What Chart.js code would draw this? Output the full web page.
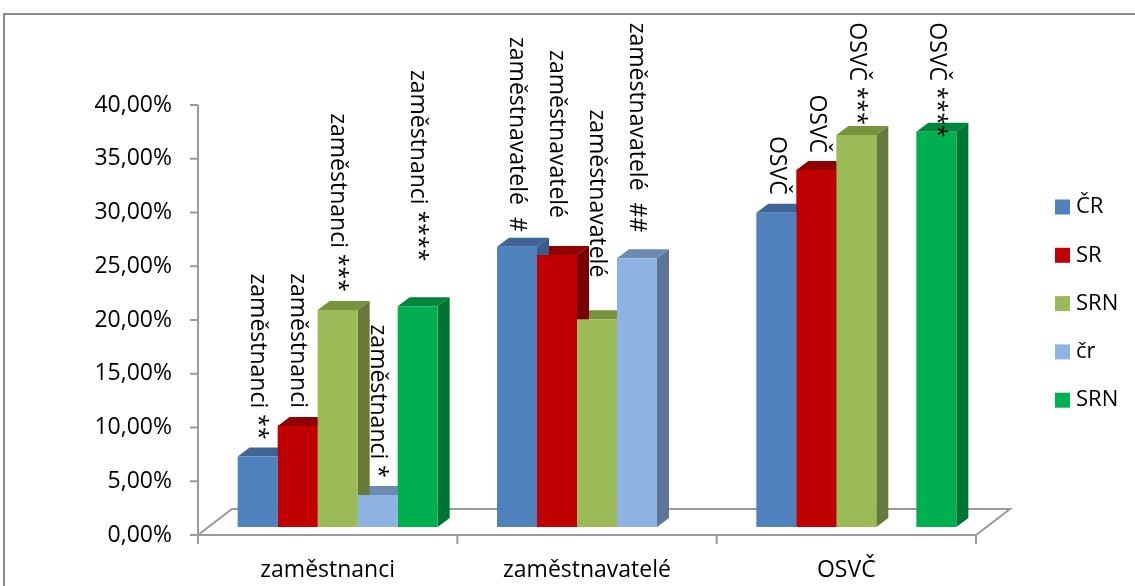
<!DOCTYPE html>
<html lang="cs">
<head>
<meta charset="utf-8">
<title>Zaměstnanci, zaměstnavatelé, OSVČ</title>
<style>
  html, body { margin: 0; padding: 0; background: #ffffff; }
  #wrap { width: 1135px; height: 586px; position: relative; }
</style>
<script src="https://cdn.jsdelivr.net/npm/chart.js@4.4.1/dist/chart.umd.min.js"></script>
</head>
<body>
<div id="wrap"><canvas id="chart" width="1135" height="586"></canvas></div>
<script>
// ---- data ----
const categories = ['zaměstnanci', 'zaměstnavatelé', 'OSVČ'];
const seriesNames = ['ČR', 'SR', 'SRN', 'čr', 'SRN'];

const valuesCR   = [0.0655, 0.2607, 0.2924];
const valuesSR   = [0.0940, 0.2530, 0.3320];
const valuesSRN  = [0.2019, 0.1932, 0.3647];
const valuesCr   = [0.0298, 0.2500, null];
const valuesSRN2 = [0.2053, null,   0.3677];

const labelsCR   = ['zaměstnanci **', 'zaměstnavatelé  #', 'OSVČ'];
const labelsSR   = ['zaměstnanci', 'zaměstnavatelé', 'OSVČ'];
const labelsSRN  = ['zaměstnanci ***', 'zaměstnavatelé', 'OSVČ ***'];
const labelsCr   = ['zaměstnanci *', 'zaměstnavatelé  ##', ''];
const labelsSRN2 = ['zaměstnanci ****', '', 'OSVČ ****'];

const yTickValues = [0, 0.05, 0.10, 0.15, 0.20, 0.25, 0.30, 0.35, 0.40];

// ---- styling ----
const FONT = '"Open Sans", "DejaVu Sans", sans-serif';
const faceColors = [
  { front: '#4f81bd', top: '#3e6595', side: '#385d8a' },
  { front: '#c00000', top: '#900000', side: '#790000' },
  { front: '#9bbb59', top: '#77933c', side: '#66793a' },
  { front: '#8db3e2', top: '#6d8bb0', side: '#5b7593' },
  { front: '#00b050', top: '#00873d', side: '#007432' }
];
// distance (px) between a bar top and the end of its rotated label, per dataset / category
const labelGap = [
  [17, 15, 18],
  [18, 37, 17],
  [18, 42, 10],
  [17, 26, 0],
  [45, 0, -6]
];
const BAR_DEPTH = { dx: 12, dy: 9 };     // extrusion of each column
const WALL_SHIFT = { dx: -10, dy: 8 };   // front edge of the floor relative to the columns
const FLOOR_DEPTH = { dx: 34, dy: -26 }; // floor extent going backwards

const seriesValues = [valuesCR, valuesSR, valuesSRN, valuesCr, valuesSRN2];
const seriesLabels = [labelsCR, labelsSR, labelsSRN, labelsCr, labelsSRN2];

Chart.defaults.font.family = FONT;
Chart.defaults.color = '#000000';

function pct(v) {
  return (v * 100).toFixed(2).replace('.', ',') + '%';
}

const frame = {
  id: 'frame',
  beforeDraw(chart) {
    const ctx = chart.ctx;
    ctx.save();
    ctx.fillStyle = '#ffffff';
    ctx.fillRect(0, 0, chart.width, chart.height);
    ctx.strokeStyle = '#8c8c8c';
    ctx.lineWidth = 2;
    ctx.strokeRect(4, 14, chart.width + 20, chart.height + 20);
    ctx.restore();
  }
};

const columns3d = {
  id: 'columns3d',
  beforeDatasetsDraw(chart) {
    const { ctx, chartArea, scales: { x, y } } = chart;
    const zeroY = y.getPixelForValue(0) + WALL_SHIFT.dy;
    const x0 = chartArea.left + WALL_SHIFT.dx;
    const x1 = chartArea.right + WALL_SHIFT.dx;

    ctx.save();
    ctx.strokeStyle = '#9a9a9a';
    ctx.lineWidth = 2;
    ctx.lineJoin = 'miter';
    // floor
    ctx.beginPath();
    ctx.moveTo(x0, zeroY);
    ctx.lineTo(x0 + FLOOR_DEPTH.dx, zeroY + FLOOR_DEPTH.dy);
    ctx.lineTo(x1 + FLOOR_DEPTH.dx, zeroY + FLOOR_DEPTH.dy);
    ctx.lineTo(x1, zeroY);
    ctx.closePath();
    ctx.stroke();

    // value axis with tick marks
    ctx.beginPath();
    ctx.moveTo(x0, zeroY);
    ctx.lineTo(x0, y.getPixelForValue(y.max) + WALL_SHIFT.dy);
    y.ticks.forEach(t => {
      const py = y.getPixelForValue(t.value) + WALL_SHIFT.dy;
      ctx.moveTo(x0 - 8, py);
      ctx.lineTo(x0, py);
    });
    // category axis tick marks at category boundaries
    const n = categories.length;
    const catW = (chartArea.right - chartArea.left) / n;
    for (let i = 0; i <= n; i++) {
      const px = x.getPixelForValue(Math.min(i, n - 1)) + (i < n ? -catW / 2 : catW / 2) + WALL_SHIFT.dx;
      ctx.moveTo(px, zeroY);
      ctx.lineTo(px, zeroY + 9);
    }
    ctx.stroke();

    // column tops, then column sides; the library paints the fronts afterwards
    const metas = chart.getSortedVisibleDatasetMetas();
    const pass = (kind) => {
      metas.forEach(meta => {
        const c = faceColors[meta.index];
        meta.data.forEach((el, j) => {
          if (seriesValues[meta.index][j] == null) return;
          const { x: cx, y: top, base, width } = el.getProps(['x', 'y', 'base', 'width'], true);
          const l = cx - width / 2, r = cx + width / 2;
          ctx.beginPath();
          if (kind === 'top') {
            ctx.fillStyle = c.top;
            ctx.moveTo(l, top);
            ctx.lineTo(r, top);
            ctx.lineTo(r + BAR_DEPTH.dx, top - BAR_DEPTH.dy);
            ctx.lineTo(l + BAR_DEPTH.dx, top - BAR_DEPTH.dy);
          } else {
            ctx.fillStyle = c.side;
            ctx.moveTo(r, top);
            ctx.lineTo(r + BAR_DEPTH.dx, top - BAR_DEPTH.dy);
            ctx.lineTo(r + BAR_DEPTH.dx, base - BAR_DEPTH.dy);
            ctx.lineTo(r, base);
          }
          ctx.closePath();
          ctx.fill();
        });
      });
    };
    pass('top');
    pass('side');
    ctx.restore();
  },
  afterDatasetsDraw(chart) {
    const ctx = chart.ctx;
    ctx.save();
    ctx.font = '23px ' + FONT;
    ctx.fillStyle = '#000000';
    ctx.textAlign = 'right';
    ctx.textBaseline = 'middle';
    chart.getSortedVisibleDatasetMetas().forEach(meta => {
      meta.data.forEach((el, j) => {
        const text = seriesLabels[meta.index][j];
        if (!text || seriesValues[meta.index][j] == null) return;
        const { x: cx, y: top } = el.getProps(['x', 'y'], true);
        ctx.save();
        ctx.translate(cx, top - labelGap[meta.index][j]);
        ctx.rotate(Math.PI / 2);
        ctx.fillText(text, 0, 0);
        ctx.restore();
      });
    });
    ctx.restore();
  },
  afterDraw(chart) {
    // legend
    const ctx = chart.ctx;
    ctx.save();
    ctx.font = '22px ' + FONT;
    ctx.textAlign = 'left';
    ctx.textBaseline = 'middle';
    chart.data.datasets.forEach((ds, i) => {
      const cy = 207 + i * 48.3;
      ctx.fillStyle = ds.backgroundColor;
      ctx.fillRect(1055, cy - 7.5, 15, 15);
      ctx.fillStyle = '#000000';
      ctx.fillText(ds.label, 1076, cy);
    });
    ctx.restore();
  }
};

const chart = new Chart(document.getElementById('chart'), {
  type: 'bar',
  data: {
    labels: categories,
    datasets: seriesValues.map((vals, i) => ({
      label: seriesNames[i],
      data: vals,
      backgroundColor: faceColors[i].front,
      borderWidth: 0
    }))
  },
  options: {
    responsive: false,
    animation: false,
    events: [],
    layout: { padding: { top: 97, right: 149, bottom: 0, left: 0 } },
    datasets: { bar: { categoryPercentage: 0.7713, barPercentage: 1 } },
    plugins: {
      legend: { display: false },
      tooltip: { enabled: false }
    },
    scales: {
      x: {
        grid: { display: false, drawTicks: false },
        border: { display: false },
        ticks: {
          font: { size: 23 },
          color: '#000000',
          padding: 30,
          labelOffset: WALL_SHIFT.dx,
          maxRotation: 0,
          autoSkip: false
        },
        afterFit(scale) { scale.height = 59; }
      },
      y: {
        min: 0,
        max: 0.4,
        afterBuildTicks(scale) { scale.ticks = yTickValues.map(v => ({ value: v })); },
        grid: { display: false, drawTicks: false },
        border: { display: false },
        ticks: {
          font: { size: 23 },
          color: '#000000',
          padding: 36,
          labelOffset: WALL_SHIFT.dy,
          callback: (v) => pct(v)
        },
        afterFit(scale) { scale.width = 208; }
      }
    }
  },
  plugins: [frame, columns3d]
});
</script>
</body>
</html>
